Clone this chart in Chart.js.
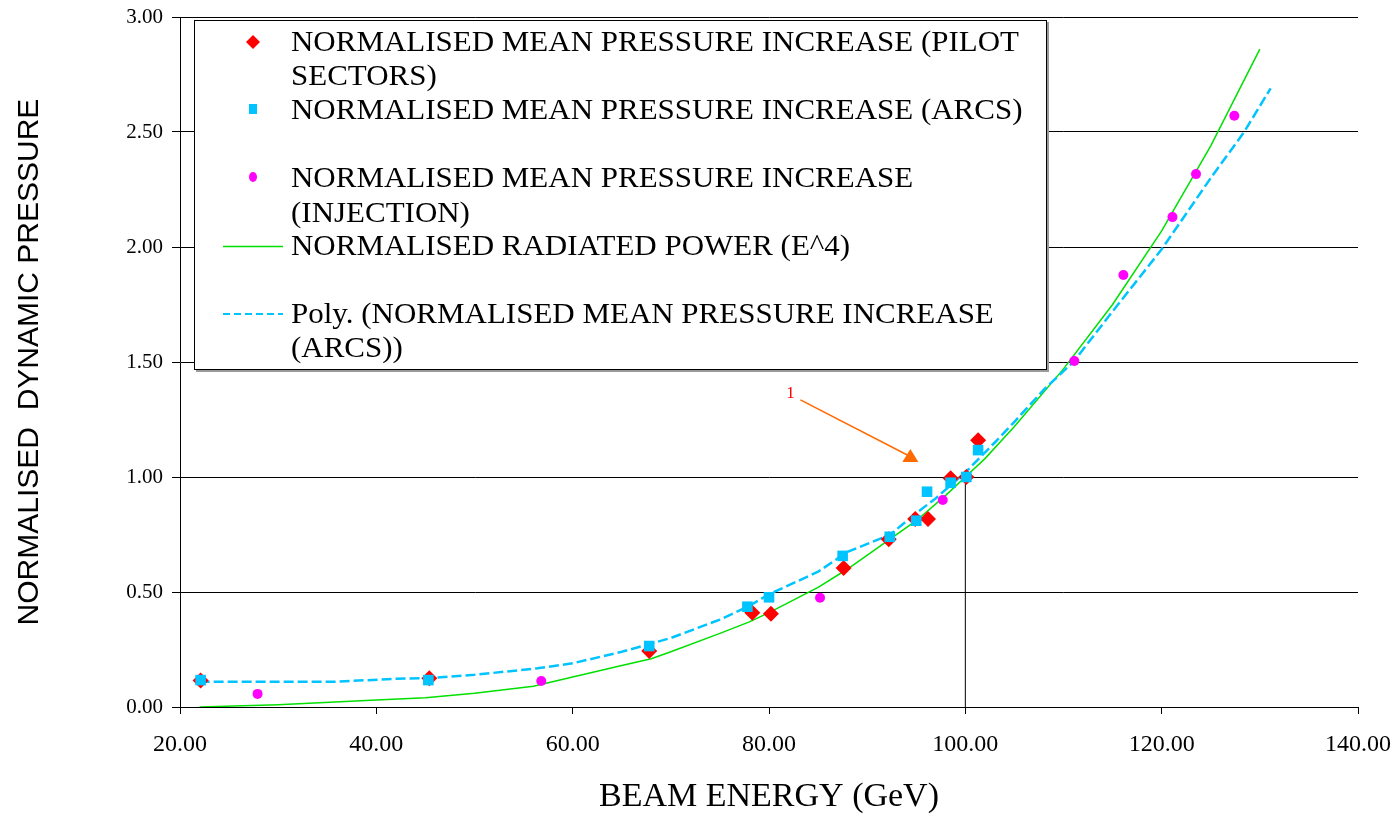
<!DOCTYPE html>
<html>
<head>
<meta charset="utf-8">
<script src="https://cdn.jsdelivr.net/npm/chart.js@4.4.1/dist/chart.umd.min.js"></script>
<style>
html,body{margin:0;padding:0;background:#fff;}
#wrap{width:1395px;height:814px;position:relative;}
</style>
</head>
<body>
<div id="wrap"><canvas id="c" width="1395" height="814"></canvas></div>
<script>
// ---- data ----
const pilotEnergy   = [22.1, 45.4, 67.8, 78.3, 80.2, 87.6, 92.2, 94.9, 96.2, 98.5, 100.1, 101.3];
const pilotPressure = [0.115, 0.125, 0.243, 0.41, 0.405, 0.604, 0.729, 0.817, 0.817, 0.995, 1.0, 1.16];

const arcsEnergy    = [22.1, 45.3, 67.8, 77.8, 80.0, 87.5, 92.3, 95.0, 96.1, 98.5, 100.1, 101.3];
const arcsPressure  = [0.117, 0.117, 0.265, 0.436, 0.477, 0.657, 0.74, 0.81, 0.936, 0.975, 1.0, 1.117];

const injEnergy     = [27.9, 56.8, 85.2, 97.7, 111.1, 116.1, 121.1, 123.5, 127.4];
const injPressure   = [0.057, 0.113, 0.475, 0.90, 1.504, 1.878, 2.13, 2.317, 2.571];

const radEnergy     = [22, 30, 40, 45, 50, 56, 60, 65, 68, 70, 75, 78, 80, 85, 88, 92, 95, 98, 100, 102, 105, 110, 115, 120, 125, 130];
const radPower      = [0.00, 0.01, 0.03, 0.04, 0.06, 0.09, 0.13, 0.18, 0.21, 0.24, 0.32, 0.37, 0.41, 0.52, 0.60, 0.72, 0.81, 0.92, 1.00, 1.08, 1.22, 1.47, 1.75, 2.07, 2.44, 2.86];

const polyEnergy    = [22, 30, 36, 42, 45, 50, 56.4, 60, 65, 70, 75, 78, 80, 85, 88, 92.3, 95, 97, 100, 103, 105, 108, 111, 115, 120, 125, 128.4, 131.1];
const polyPressure  = [0.11, 0.11, 0.11, 0.123, 0.125, 0.14, 0.168, 0.19, 0.24, 0.30, 0.38, 0.44, 0.49, 0.588, 0.675, 0.748, 0.843, 0.908, 1.02, 1.15, 1.24, 1.38, 1.50, 1.72, 1.99, 2.30, 2.50, 2.69];

const refEnergy     = [100, 100];
const refPressure   = [0, 1];

const xTicks = [20, 40, 60, 80, 100, 120, 140];
const yTicks = [0, 0.5, 1, 1.5, 2, 2.5, 3];

const seriesLabels = [
  'NORMALISED MEAN PRESSURE INCREASE (PILOT SECTORS)',
  'NORMALISED MEAN PRESSURE INCREASE (ARCS)',
  'NORMALISED MEAN PRESSURE INCREASE (INJECTION)',
  'NORMALISED RADIATED POWER (E^4)',
  'Poly. (NORMALISED MEAN PRESSURE INCREASE (ARCS))'
];
const xTitle = 'BEAM ENERGY (GeV)';
const yTitle = 'NORMALISED  DYNAMIC PRESSURE';

const noteText = '1';
const noteTextAt = [82.2, 1.365];
const noteFrom = [83.2, 1.335];
const noteTo   = [94.4, 1.087];

// ---- helpers ----
function pts(xs, ys) { return xs.map((x, i) => ({ x: x, y: ys[i] })); }

const RED = '#ff0000', CYAN = '#00c4ff', MAG = '#ff00ff', GREEN = '#00e000', ORANGE = '#ff6a00';

const legendPlugin = {
  id: 'boxLegend',
  afterDraw(chart) {
    const ctx = chart.ctx;
    ctx.save();
    const L = 194, T = 20, W = 853, H = 350;
    ctx.fillStyle = '#9a9a9a';
    ctx.fillRect(L + 2, T + 2, W, H);
    ctx.fillStyle = '#ffffff';
    ctx.fillRect(L, T, W, H);
    ctx.strokeStyle = '#000';
    ctx.lineWidth = 1;
    ctx.strokeRect(L + 0.5, T + 0.5, W - 1, H - 1);

    const font = '30px "Liberation Serif", "Times New Roman", serif';
    ctx.font = font;
    const first = 'NORMALISED MEAN PRESSURE INCREASE (PILOT';
    const sx = 728 / ctx.measureText(first).width;
    const rows = [
      { lines: [first, 'SECTORS)'], base: [51, 85] },
      { lines: ['NORMALISED MEAN PRESSURE INCREASE (ARCS)'], base: [119] },
      { lines: ['NORMALISED MEAN PRESSURE INCREASE', '(INJECTION)'], base: [187, 222] },
      { lines: ['NORMALISED RADIATED POWER (E^4)'], base: [255] },
      { lines: ['Poly. (NORMALISED MEAN PRESSURE INCREASE', '(ARCS))'], base: [323, 357] }
    ];
    ctx.fillStyle = '#000';
    ctx.textBaseline = 'alphabetic';
    ctx.textAlign = 'left';
    rows.forEach(r => {
      r.lines.forEach((t, i) => {
        ctx.save();
        ctx.translate(291, r.base[i]);
        ctx.scale(sx, 1);
        ctx.fillText(t, 0, 0);
        ctx.restore();
      });
    });
    // markers
    const mx = 253;
    ctx.fillStyle = RED;
    ctx.beginPath();
    ctx.moveTo(mx, 42 - 7); ctx.lineTo(mx + 7, 42); ctx.lineTo(mx, 42 + 7); ctx.lineTo(mx - 7, 42); ctx.closePath();
    ctx.fill();
    ctx.fillStyle = CYAN;
    ctx.fillRect(mx - 4, 109 - 5, 8, 10);
    ctx.fillStyle = MAG;
    ctx.beginPath(); ctx.ellipse(mx, 177, 4, 5, 0, 0, Math.PI * 2); ctx.fill();
    ctx.strokeStyle = GREEN; ctx.lineWidth = 1.5;
    ctx.beginPath(); ctx.moveTo(223, 246.5); ctx.lineTo(283, 246.5); ctx.stroke();
    ctx.strokeStyle = CYAN; ctx.lineWidth = 2;
    ctx.setLineDash([7, 4]);
    ctx.beginPath(); ctx.moveTo(223, 314); ctx.lineTo(283, 314); ctx.stroke();
    ctx.restore();
  }
};

const notePlugin = {
  id: 'note',
  afterDatasetsDraw(chart) {
    const ctx = chart.ctx, xs = chart.scales.x, ys = chart.scales.y;
    const x0 = xs.getPixelForValue(noteFrom[0]), y0 = ys.getPixelForValue(noteFrom[1]);
    const x1 = xs.getPixelForValue(noteTo[0]), y1 = ys.getPixelForValue(noteTo[1]);
    ctx.save();
    ctx.strokeStyle = ORANGE; ctx.lineWidth = 1.5;
    ctx.beginPath(); ctx.moveTo(x0, y0); ctx.lineTo(x1 - 3, y1 - 2); ctx.stroke();
    ctx.fillStyle = ORANGE;
    ctx.beginPath();
    ctx.moveTo(x1, y1 - 8); ctx.lineTo(x1 + 8, y1 + 5); ctx.lineTo(x1 - 8, y1 + 5); ctx.closePath();
    ctx.fill();
    ctx.fillStyle = '#ff0000';
    ctx.font = '17px "Liberation Serif", serif';
    ctx.textAlign = 'center'; ctx.textBaseline = 'middle';
    ctx.fillText(noteText, xs.getPixelForValue(noteTextAt[0]), ys.getPixelForValue(noteTextAt[1]));
    ctx.restore();
  }
};

new Chart(document.getElementById('c'), {
  type: 'scatter',
  data: {
    datasets: [
      { label: seriesLabels[0], data: pts(pilotEnergy, pilotPressure), pointStyle: 'rectRot', pointRadius: 8, pointHoverRadius: 8,
        backgroundColor: RED, borderColor: RED, borderWidth: 0, showLine: false, order: 2 },
      { label: seriesLabels[1], data: pts(arcsEnergy, arcsPressure), pointStyle: 'rect', pointRadius: 7.5, pointHoverRadius: 7.5,
        backgroundColor: CYAN, borderColor: CYAN, borderWidth: 0, showLine: false, order: 1 },
      { label: seriesLabels[2], data: pts(injEnergy, injPressure), pointStyle: 'circle', pointRadius: 5, pointHoverRadius: 5,
        backgroundColor: MAG, borderColor: MAG, borderWidth: 0, showLine: false, order: 3 },
      { label: seriesLabels[3], data: pts(radEnergy, radPower), showLine: true, pointRadius: 0, borderColor: GREEN,
        borderWidth: 1.5, tension: 0, fill: false, order: 5 },
      { label: seriesLabels[4], data: pts(polyEnergy, polyPressure), showLine: true, pointRadius: 0, borderColor: CYAN,
        borderWidth: 2.5, borderDash: [10, 4], tension: 0, fill: false, order: 4 },
      { label: 'ref', data: pts(refEnergy, refPressure), showLine: true, pointRadius: 0, borderColor: '#000',
        borderWidth: 1, tension: 0, fill: false, order: 6 }
    ]
  },
  options: {
    responsive: false,
    animation: false,
    layout: { padding: { left: 0, right: 37, top: 17, bottom: 0 } },
    plugins: { legend: { display: false }, tooltip: { enabled: false } },
    scales: {
      x: {
        type: 'linear', min: 20, max: 140,
        afterBuildTicks: s => { s.ticks = xTicks.map(v => ({ value: v })); },
        afterFit: s => { s.height = 107; s.paddingLeft = 0; s.paddingRight = 0; },
        grid: { drawOnChartArea: false, drawTicks: true, tickLength: 7, tickColor: '#000', color: '#000' },
        border: { display: true, color: '#000', width: 1 },
        ticks: { color: '#000', padding: 16, maxRotation: 0, font: { family: '"Liberation Serif", serif', size: 24 },
                 callback: v => Number(v).toFixed(2) },
        title: { display: true, text: xTitle, color: '#000', padding: { top: 0, bottom: 0 },
                 font: { family: '"Liberation Serif", serif', size: 34, lineHeight: 1.0 } }
      },
      y: {
        type: 'linear', min: 0, max: 3,
        afterBuildTicks: s => { s.ticks = yTicks.map(v => ({ value: v })); },
        afterFit: s => { s.width = 180; s.paddingTop = 0; s.paddingBottom = 0; },
        grid: { drawOnChartArea: true, drawTicks: true, tickLength: 8, color: '#000', tickColor: '#000', lineWidth: 1 },
        border: { display: true, color: '#000', width: 1 },
        ticks: { color: '#000', padding: 9, font: { family: '"Liberation Serif", serif', size: 21 },
                 callback: v => Number(v).toFixed(2) },
        title: { display: true, text: yTitle, color: '#000', padding: { top: 12, bottom: 0 },
                 font: { family: '"Liberation Sans", Arial, sans-serif', size: 30 } }
      }
    }
  },
  plugins: [notePlugin, legendPlugin]
});
</script>
</body>
</html>
